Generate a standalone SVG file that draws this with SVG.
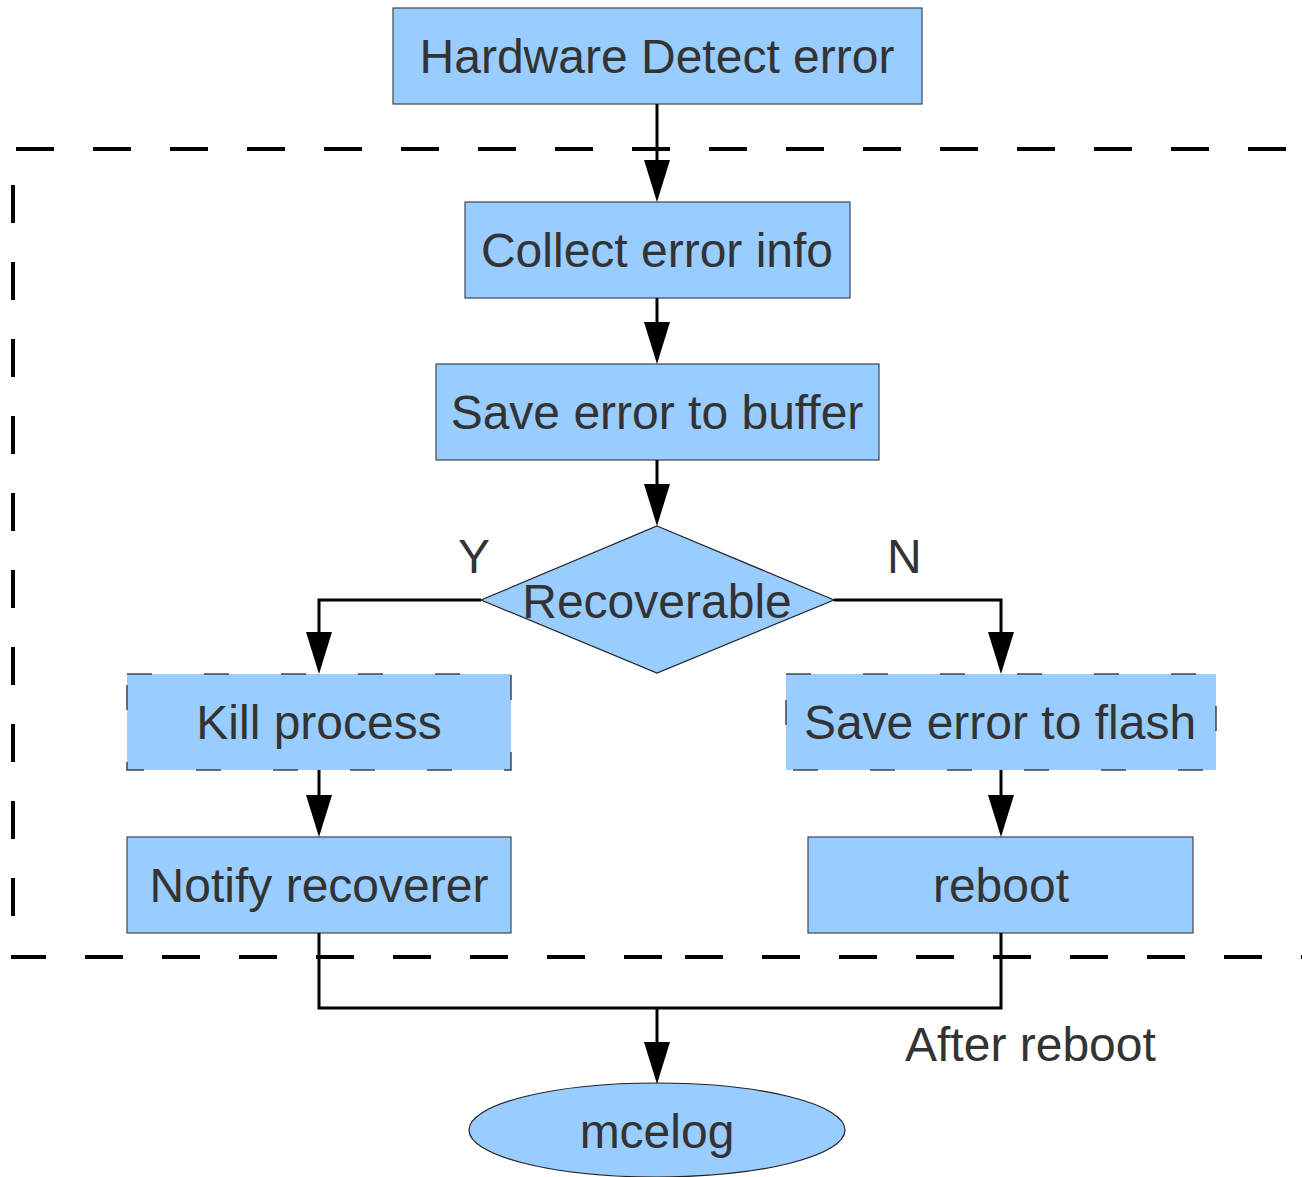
<svg xmlns="http://www.w3.org/2000/svg" width="1302" height="1177" viewBox="0 0 1302 1177">
<style>
.box{fill:#99ccff;stroke:#3c4650;stroke-width:1.2}
.dbox{fill:#99ccff;stroke:#3c4650;stroke-width:1.5;stroke-dasharray:25 52}
.t{font-family:"Liberation Sans",Arial,sans-serif;font-size:48px;fill:#333333;text-anchor:middle}
.lbl{font-family:"Liberation Sans",Arial,sans-serif;font-size:48px;fill:#333333}
.c{fill:none;stroke:#000;stroke-width:3}
.ca{fill:none;stroke:#000;stroke-width:3;marker-end:url(#arr)}
.bound{fill:none;stroke:#000;stroke-width:4;stroke-dasharray:38 39}
</style>
<defs>
<marker id="arr" markerUnits="userSpaceOnUse" viewBox="0 0 42 26" markerWidth="42" markerHeight="26" refX="34" refY="13" orient="auto">
<path d="M0,0 L42,13 L0,26 z" fill="#000"/>
</marker>
</defs>
<rect width="1302" height="1177" fill="#fff"/>
<g id="boundary">
<path class="bound" d="M16,149 H1302"/>
<path class="bound" d="M13,185 V959"/>
<path class="bound" d="M11,957 H662" stroke-dashoffset="3"/>
<path class="bound" d="M662,957 H1302" stroke-dashoffset="54"/>
</g>
<g id="n-hw"><rect class="box" x="393" y="8" width="529" height="96"/><text class="t" x="657" y="73">Hardware Detect error</text></g>
<g id="n-collect"><rect class="box" x="465" y="202" width="385" height="96"/><text class="t" x="657" y="267">Collect error info</text></g>
<g id="n-buffer"><rect class="box" x="436" y="364" width="443" height="96"/><text class="t" x="657" y="429">Save error to buffer</text></g>
<g id="n-recov"><polygon class="box" points="657,526 834,600 657,673 481,600" style="stroke:#222"/><text class="t" x="657" y="618">Recoverable</text></g>
<g id="n-kill"><rect class="dbox" x="127" y="674" width="384" height="96"/><text class="t" x="319" y="739">Kill process</text></g>
<g id="n-flash"><rect class="dbox" x="786" y="674" width="430" height="96"/><text class="t" x="1000" y="739">Save error to flash</text></g>
<g id="n-notify"><rect class="box" x="127" y="837" width="384" height="96"/><text class="t" x="319" y="902">Notify recoverer</text></g>
<g id="n-reboot"><rect class="box" x="808" y="837" width="385" height="96"/><text class="t" x="1001" y="902">reboot</text></g>
<g id="n-mcelog"><ellipse class="box" cx="657" cy="1130" rx="188" ry="47" style="stroke:#222"/><text class="t" x="657" y="1148">mcelog</text></g>
<g id="connectors">
<path class="ca" d="M657,104 V194"/>
<path class="ca" d="M657,298 V356"/>
<path class="ca" d="M657,460 V518"/>
<path class="ca" d="M481,600 H319 V666"/>
<path class="ca" d="M834,600 H1001 V666"/>
<path class="ca" d="M319,770 V829"/>
<path class="ca" d="M1001,770 V829"/>
<path class="c" d="M319,933 V1008 H1001 V933"/>
<path class="ca" d="M657,1008 V1076"/>
<text class="lbl" x="458" y="573">Y</text>
<text class="lbl" x="887" y="573">N</text>
<text class="lbl" x="905" y="1061">After reboot</text>
</g>
</svg>
